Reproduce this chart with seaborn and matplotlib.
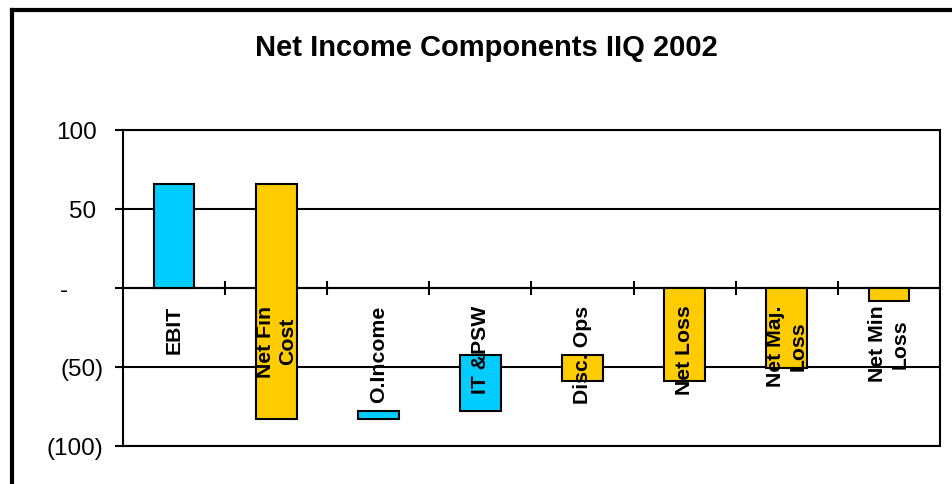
import matplotlib
matplotlib.use("Agg")
import matplotlib.pyplot as plt
from matplotlib.lines import Line2D
import seaborn as sns
import numpy as np
import pandas as pd

# ---- data -------------------------------------------------------------
categories = ["EBIT", "Net Fin\nCost", "O.Income", "IT &PSW", "Disc. Ops",
              "Net Loss", "Net Maj.\nLoss", "Net Min\nLoss"]
values = [66, -149, 5, 35.5, -16.5, -59, -50.5, -8.5]
starts_at_zero = [True, False, False, False, False, True, True, True]
y_ticks = [-100, -50, 0, 50, 100]
y_tick_labels = ["(100)", "(50)", "-", "50", "100"]
title = "Net Income Components IIQ 2002"

POS_COLOR = "#00CCFF"
NEG_COLOR = "#FFCC00"

# waterfall bottoms
bottoms = []
running = 0.0
for v, z in zip(values, starts_at_zero):
    start = 0.0 if z else running
    bottoms.append(start)
    running = start + v

sns.set_style("white")
plt.rcParams["font.family"] = ["Liberation Sans", "DejaVu Sans"]
plt.rcParams["text.color"] = "black"
plt.rcParams["axes.labelcolor"] = "black"
plt.rcParams["xtick.color"] = "black"
plt.rcParams["ytick.color"] = "black"

W, H = 953, 485
fig = plt.figure(figsize=(W / 100, H / 100), dpi=100)
fig.patch.set_facecolor("white")

ax_l, ax_r, ax_t, ax_b = 123, 940, 131, 447
ax = fig.add_axes([ax_l / W, 1 - ax_b / H, (ax_r - ax_l) / W, (ax_b - ax_t) / H])

df = pd.DataFrame({"category": categories, "value": values})
sns.barplot(data=df, x="category", y="value", order=categories, bottom=bottoms,
            width=0.4, color=POS_COLOR, edgecolor="black", linewidth=1.5,
            errorbar=None, ax=ax, zorder=3)
for p, v in zip(ax.patches, values):
    p.set_facecolor(POS_COLOR if v > 0 else NEG_COLOR)
    p.set_edgecolor("black")

ax.set_xlim(-0.5, len(categories) - 0.5)
ax.set_ylim(-100, 100)
ax.set_xlabel("")
ax.set_ylabel("")

LW = 1.5
# y axis
ax.set_yticks(y_ticks)
ax.set_yticklabels(y_tick_labels)
ax.tick_params(axis="y", left=True, direction="out", length=6, width=LW, pad=8,
               labelsize=17.5, colors="black")
ax.yaxis.grid(True, color="black", linewidth=LW)
ax.xaxis.grid(False)
ax.set_axisbelow(True)

axw = ax_r - ax_l
for lab, txt in zip(ax.get_yticklabels(), y_tick_labels):
    if txt.startswith("("):
        shift = 0
    elif txt == "-":
        shift = -36
    else:
        shift = -7
    lab.set_x(shift / axw)

# x axis: ticks on the zero line at category boundaries
ax.set_xticks(np.arange(0.5, len(categories) - 1, 1.0))
ax.set_xticklabels([])
ax.tick_params(axis="x", bottom=True, direction="inout", length=9.5, width=LW,
               labelbottom=False, colors="black")
for s in ax.spines.values():
    s.set_color("black")
    s.set_linewidth(LW)
ax.spines["bottom"].set_position(("data", 0))
ax.axhline(-100, color="black", linewidth=LW, clip_on=False, zorder=4)

# category labels
for i, cat in enumerate(categories):
    ax.text(i, -10.5, cat, rotation=90, ha="center", va="top",
            fontsize=15.3, fontweight="bold", multialignment="center",
            linespacing=1.2, zorder=6, color="black")

# title
fig.text(486 / W, 1 - 48 / H, title, ha="center", va="center",
         fontsize=21, fontweight="bold", color="black")

# outer frame (top and left)
fig.add_artist(Line2D([12 / W, 12 / W], [0, 1 - 11 / H], transform=fig.transFigure,
                      color="black", linewidth=3, solid_capstyle="projecting"))
fig.add_artist(Line2D([12 / W, 1.0], [1 - 11 / H, 1 - 11 / H], transform=fig.transFigure,
                      color="black", linewidth=3, solid_capstyle="projecting"))

fig.savefig("out.png", dpi=100)
